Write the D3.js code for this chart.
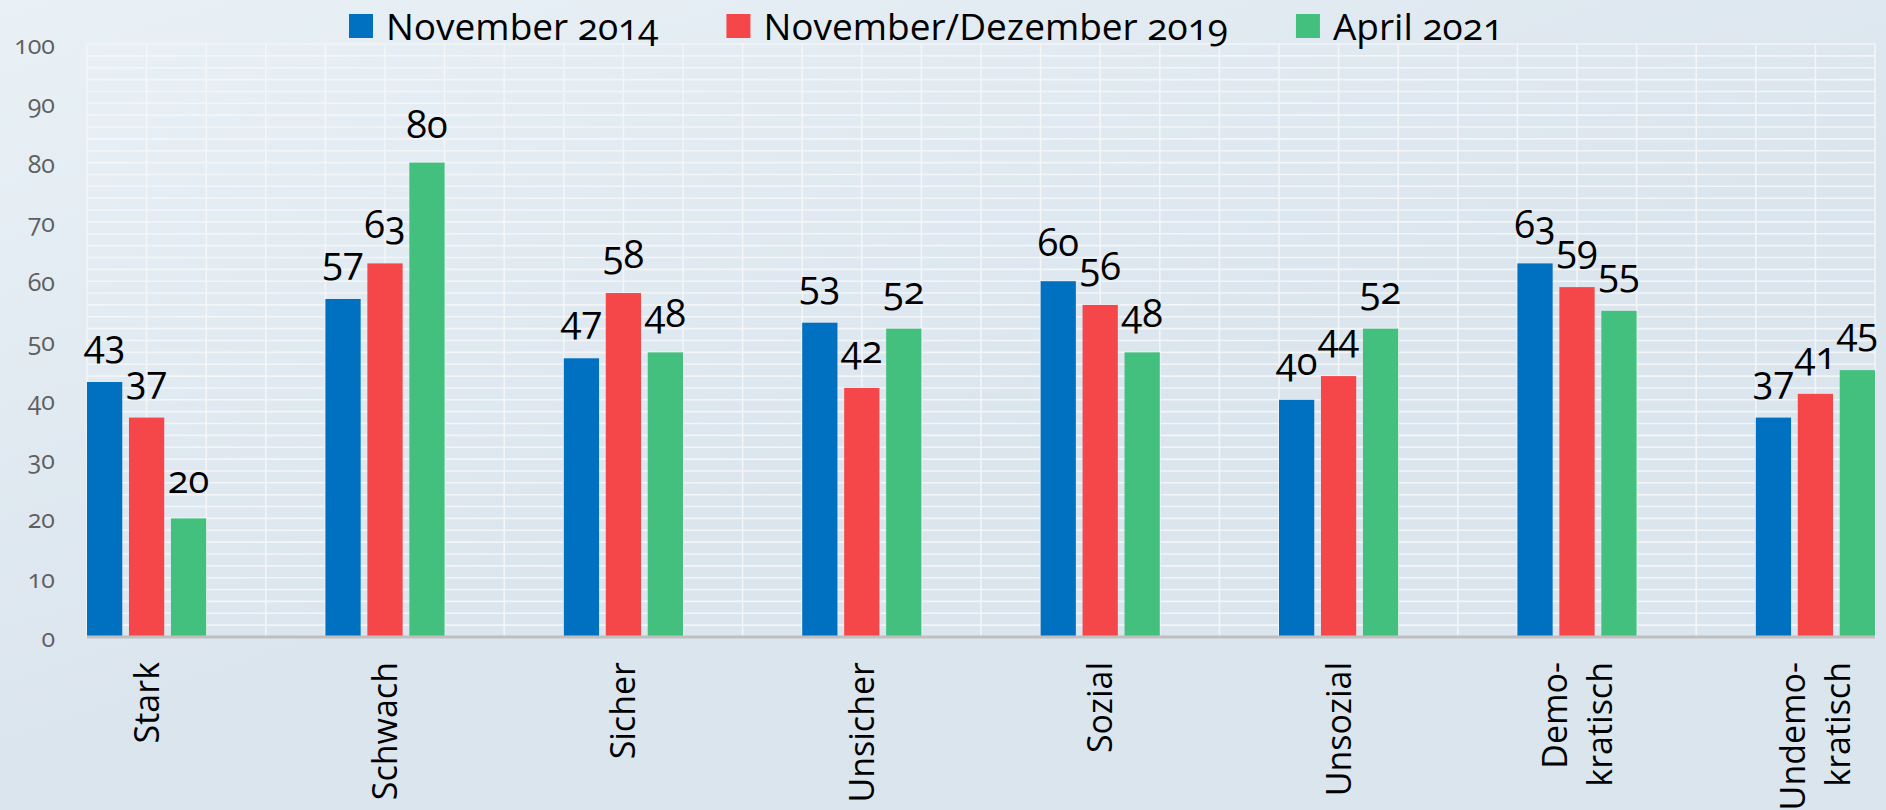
<!DOCTYPE html>
<html>
<head>
<meta charset="utf-8">
<script src="https://cdn.jsdelivr.net/npm/d3@7"></script>
<style>
  html, body { margin: 0; padding: 0; }
  body { width: 1886px; height: 810px; overflow: hidden; }
  svg text { font-family: "Open Sans", "Noto Sans", sans-serif; font-variant-numeric: oldstyle-nums; font-feature-settings: "onum" 1; }
</style>
</head>
<body>
<script>

// data
var categories = [["Stark"], ["Schwach"], ["Sicher"], ["Unsicher"], ["Sozial"], ["Unsozial"], ["Demo-", "kratisch"], ["Undemo-", "kratisch"]];
var seriesNames = ["November 2014", "November/Dezember 2019", "April 2021"];
var nov2014 = [43, 57, 47, 53, 60, 40, 63, 37];
var dez2019 = [37, 63, 58, 42, 56, 44, 59, 41];
var apr2021 = [20, 80, 48, 52, 48, 52, 55, 45];
var yTicks = [0, 10, 20, 30, 40, 50, 60, 70, 80, 90, 100];

var seriesValues = [nov2014, dez2019, apr2021];
var colors = ["#0070c0", "#f5464a", "#43c07e"];

var width = 1886, height = 810;
var plot = { left: 87, right: 1875, top: 44, bottom: 637 };

var svg = d3.select("body").append("svg")
    .attr("width", width)
    .attr("height", height);

// background gradient
var defs = svg.append("defs");
var grad = defs.append("linearGradient")
    .attr("id", "bg")
    .attr("x1", "0%").attr("y1", "0%")
    .attr("x2", "45%").attr("y2", "60%");
grad.append("stop").attr("offset", "0%").attr("stop-color", "#e9f1f6");
grad.append("stop").attr("offset", "100%").attr("stop-color", "#dbe5ee");

svg.append("rect")
    .attr("width", width)
    .attr("height", height)
    .attr("fill", "url(#bg)");

var keys = categories.map(function(d) { return d.join(""); });

var x = d3.scaleBand()
    .domain(keys)
    .range([plot.left, plot.right])
    .paddingInner(0.5)
    .paddingOuter(0)
    .align(0);

var xInner = d3.scaleBand()
    .domain([0, 1, 2])
    .range([0, x.bandwidth()])
    .paddingInner(0.16);

var y = d3.scaleLinear()
    .domain([0, 100])
    .range([plot.bottom, plot.top]);

// grid
var grid = svg.append("g").attr("class", "grid");

grid.selectAll("line.h")
    .data(d3.range(0, 101, 2))
    .enter().append("line")
    .attr("class", "h")
    .attr("x1", plot.left)
    .attr("x2", plot.right)
    .attr("y1", function(d) { return y(d); })
    .attr("y2", function(d) { return y(d); })
    .attr("stroke", "#f3f5f7")
    .attr("stroke-width", 1.6);

var vStep = x.step() / 4;
grid.selectAll("line.v")
    .data(d3.range(0, 31))
    .enter().append("line")
    .attr("class", "v")
    .attr("x1", function(i) { return plot.left + i * vStep; })
    .attr("x2", function(i) { return plot.left + i * vStep; })
    .attr("y1", plot.top)
    .attr("y2", plot.bottom)
    .attr("stroke", "#f3f5f7")
    .attr("stroke-width", 1.6);

// y axis labels
svg.append("g")
  .selectAll("text")
  .data(yTicks)
  .enter().append("text")
    .attr("x", 55)
    .attr("y", function(d) { return y(d) + 10; })
    .attr("text-anchor", "end")
    .attr("font-size", 25)
    .attr("fill", "#5f5f5f")
    .text(function(d) { return d; });

// bars
var groups = svg.append("g")
  .selectAll("g")
  .data(keys)
  .enter().append("g")
    .attr("transform", function(d) { return "translate(" + x(d) + ",0)"; });

groups.selectAll("rect")
    .data(function(d, i) { return seriesValues.map(function(s, j) { return { s: j, v: s[i] }; }); })
    .enter().append("rect")
    .attr("x", function(d) { return xInner(d.s); })
    .attr("width", xInner.bandwidth())
    .attr("y", function(d) { return y(d.v); })
    .attr("height", function(d) { return y(0) - y(d.v); })
    .attr("fill", function(d) { return colors[d.s]; });

groups.selectAll("text")
    .data(function(d, i) { return seriesValues.map(function(s, j) { return { s: j, v: s[i] }; }); })
    .enter().append("text")
    .attr("x", function(d) { return xInner(d.s) + xInner.bandwidth() / 2; })
    .attr("y", function(d) { return y(d.v) - 25; })
    .attr("text-anchor", "middle")
    .attr("font-size", 38)
    .attr("fill", "#000")
    .text(function(d) { return d.v; });

// x axis line
svg.append("line")
    .attr("x1", plot.left)
    .attr("x2", plot.right)
    .attr("y1", plot.bottom)
    .attr("y2", plot.bottom)
    .attr("stroke", "#bfbfbf")
    .attr("stroke-width", 3);

// category labels, rotated
var labels = svg.append("g")
  .selectAll("text")
  .data(categories)
  .enter().append("text")
    .attr("transform", function(d, i) {
      return "translate(" + (x(keys[i]) + x.bandwidth() / 2) + ",662) rotate(-90)";
    })
    .attr("text-anchor", "end")
    .attr("font-size", 34)
    .attr("fill", "#000");

labels.each(function(lines) {
  var t = d3.select(this);
  var n = lines.length;
  lines.forEach(function(line, k) {
    t.append("tspan")
      .attr("x", 0)
      .attr("y", (k - (n - 1) / 2) * 45 + 12)
      .text(line);
  });
});

// legend
var legend = svg.append("g");
var lx = 349;
seriesNames.forEach(function(name, i) {
  legend.append("rect")
    .attr("x", lx)
    .attr("y", 14)
    .attr("width", 24)
    .attr("height", 24)
    .attr("fill", colors[i]);
  var t = legend.append("text")
    .attr("x", lx + 37)
    .attr("y", 40)
    .attr("font-size", 37)
    .attr("fill", "#000")
    .text(name);
  lx = lx + 37 + t.node().getComputedTextLength() + 68;
});

</script>
</body>
</html>
